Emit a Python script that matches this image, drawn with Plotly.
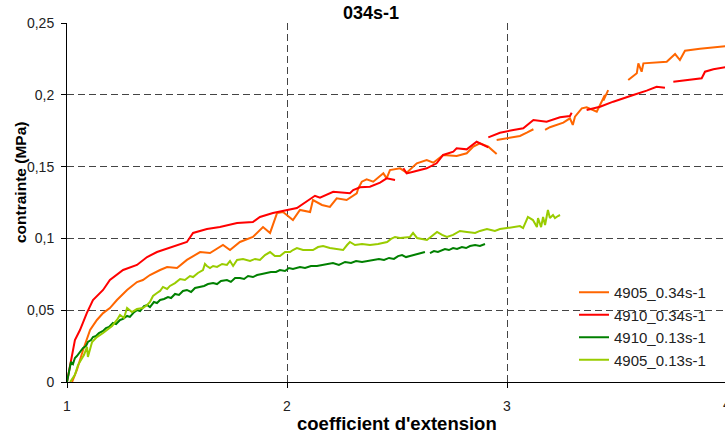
import plotly.graph_objects as go

# ---- data ----
names = ["4905_0.34s-1", "4910_0.34s-1", "4910_0.13s-1", "4905_0.13s-1"]
colors = ["#FF6600", "#FF0000", "#008000", "#99CC00"]

orange_x = [1.023,1.045,1.073,1.105,1.136,1.164,1.195,1.227,1.273,1.318,1.345,1.377,1.423,1.455,1.500,1.545,1.605,1.650,1.709,1.741,1.786,1.845,1.891,1.923,1.955,1.982,2.027,2.059,2.105,2.118,2.159,2.195,2.226,2.271,2.317,2.324,2.340,2.362,2.392,2.423,2.438,2.453,2.468,2.514,2.544,2.590,2.635,2.665,2.710,2.771,2.817,2.847,2.877,2.915,2.938,2.953,None,2.953,2.999,3.059,3.090,3.120,None,3.173,3.195,3.256,3.286,3.299,3.309,3.340,3.362,3.408,3.430,3.445,3.438,3.460,None,3.551,3.590,3.597,3.612,3.620,3.726,3.764,3.786,3.809,3.877,4.000]
orange_y = [0.000,0.0084,0.0223,0.0362,0.0432,0.0480,0.0515,0.0571,0.0641,0.0696,0.0710,0.0745,0.0780,0.0801,0.0794,0.0850,0.0905,0.0898,0.0954,0.0919,0.0975,0.1010,0.1079,0.1038,0.1177,0.1184,0.1128,0.1198,0.1184,0.1267,0.1233,0.1219,0.1279,0.1267,0.1314,0.1349,0.1395,0.1412,0.1395,0.1430,0.1453,0.1418,0.1476,0.1488,0.1458,0.1523,0.1546,0.1527,0.1581,0.1574,0.1593,0.1639,0.1662,0.1639,0.1611,0.1588,None,0.1685,0.1697,0.1713,0.1736,0.1760,None,0.1755,0.1774,0.1806,0.1836,0.1790,0.1848,0.1906,0.1913,0.1882,0.1952,0.1999,0.1959,0.2033,None,0.2103,0.2150,0.2219,0.2161,0.2219,0.2230,0.2284,0.2242,0.2307,0.2321,0.2340]

red_x = [1.000,1.014,1.036,1.059,1.090,1.118,1.164,1.195,1.255,1.318,1.364,1.409,1.482,1.545,1.573,1.636,1.695,1.773,1.845,1.877,1.936,2.000,2.045,2.127,2.150,2.210,2.256,2.286,2.301,2.332,2.377,2.408,2.423,2.453,2.491,None,2.529,2.544,2.574,2.635,2.680,2.710,2.756,2.771,2.817,2.862,2.915,None,2.915,2.968,3.029,3.074,3.120,3.180,3.241,3.286,3.294,None,3.362,3.423,3.483,3.544,3.574,3.635,3.680,3.718,None,3.756,3.832,3.885,3.900,3.938,4.000]
red_y = [0.000,0.0104,0.0292,0.0362,0.0480,0.0571,0.0641,0.0710,0.0780,0.0815,0.0870,0.0905,0.0940,0.0975,0.1038,0.1065,0.1079,0.1107,0.1114,0.1149,0.1177,0.1198,0.1212,0.1297,0.1283,0.1325,0.1321,0.1314,0.1337,0.1356,0.1360,0.1379,0.1388,0.1418,0.1407,None,0.1488,0.1453,0.1464,0.1488,0.1523,0.1581,0.1604,0.1627,0.1620,0.1673,0.1634,None,0.1704,0.1736,0.1755,0.1767,0.1825,0.1813,0.1843,0.1852,0.1875,None,0.1894,0.1917,0.1952,0.1987,0.1999,0.2029,0.2056,0.2049,None,0.2091,0.2103,0.2115,0.2161,0.2178,0.2195]

dgreen_x = [1.000,1.009,1.018,1.027,1.036,1.045,1.059,1.073,1.086,1.095,
            1.109,1.118,1.132,1.145,1.164,1.177,1.191,1.209,1.223,1.241,
            1.255,1.273,1.286,1.305,1.318,1.332,1.350,1.364,1.377,1.395,
            1.409,1.423,1.441,1.459,1.473,1.491,1.509,1.527,1.545,1.564,
            1.582,1.605,1.623,1.641,1.664,1.682,1.700,1.727,1.745,1.764,
            1.786,1.805,1.823,1.845,1.864,1.886,1.909,1.927,1.950,1.968,
            1.991,2.009,2.027,2.045,2.059,2.082,2.109,2.136,2.159,2.186,
            2.209,2.236,2.264,2.291,2.314,2.341,2.368,2.391,2.418,2.441,
            2.464,2.486,2.505,2.523,2.541,2.559,2.577,2.595,2.614,2.627,
            None,
            2.650,2.668,2.686,2.705,2.718,2.736,2.755,2.773,2.795,2.814,2.832,2.855,2.877,2.900]
dgreen_y = [0,0.0070,0.0139,0.0125,0.0167,0.0181,0.0209,0.0237,0.0251,0.0279,
            0.0292,0.0313,0.0320,0.0341,0.0355,0.0376,0.0383,0.0411,0.0404,0.0432,
            0.0439,0.0460,0.0453,0.0487,0.0501,0.0494,0.0529,0.0536,0.0522,0.0557,
            0.0550,0.0571,0.0578,0.0592,0.0585,0.0613,0.0606,0.0634,0.0641,0.0627,
            0.0655,0.0662,0.0669,0.0682,0.0689,0.0682,0.0703,0.0710,0.0697,0.0724,
            0.0724,0.0717,0.0738,0.0731,0.0745,0.0752,0.0759,0.0766,0.0766,0.0780,
            0.0773,0.0794,0.0787,0.0794,0.0801,0.0794,0.0808,0.0808,0.0815,0.0822,
            0.0829,0.0815,0.0836,0.0829,0.0843,0.0836,0.0843,0.0850,0.0857,0.0850,
            0.0864,0.0857,0.0877,0.0884,0.0870,0.0877,0.0884,0.0891,0.0898,0.0905,
            None,
            0.0898,0.0912,0.0905,0.0919,0.0926,0.0919,0.0933,0.0926,0.0940,0.0933,0.0947,0.0954,0.0947,0.0961]

lime_x = [1.014,1.036,1.050,1.059,1.077,1.091,1.095,1.114,1.136,1.164,
          1.186,1.205,1.227,1.241,1.259,1.273,1.295,1.318,1.345,1.364,
          1.377,1.391,1.409,1.423,1.436,1.455,1.468,1.491,1.514,1.536,
          1.559,1.573,1.595,1.618,1.627,1.636,1.650,1.664,1.682,1.705,
          1.727,1.741,1.755,1.773,1.800,1.832,1.855,1.877,1.900,1.923,
          1.945,1.968,1.991,2.014,2.027,2.045,2.073,2.118,2.141,2.164,
          2.195,2.227,2.255,2.273,2.286,2.309,2.341,2.377,2.414,2.455,
          2.473,2.491,2.514,2.559,2.573,2.591,2.636,2.659,2.682,2.705,
          2.727,2.755,2.786,2.818,2.855,2.877,2.909,2.945,2.968,3.000,
          3.027,3.059,3.073,3.095,3.118,3.136,3.141,3.155,3.164,3.173,
          3.186,3.195,3.209,3.218,3.232,3.241]
lime_y = [0,0.005,0.0118,0.0139,0.0188,0.0244,0.0174,0.0279,0.0313,0.0341,
          0.0369,0.0390,0.0432,0.0467,0.0446,0.0515,0.0487,0.0508,0.0515,0.0536,
          0.0557,0.0599,0.0620,0.0634,0.0662,0.0648,0.0669,0.0689,0.0717,0.0710,
          0.0738,0.0731,0.0759,0.0780,0.0822,0.0808,0.0794,0.0808,0.0801,0.0822,
          0.0815,0.0843,0.0808,0.0850,0.0857,0.0843,0.0857,0.0850,0.0884,0.0905,
          0.0877,0.0877,0.0905,0.0905,0.0919,0.0933,0.0919,0.0919,0.0940,0.0947,
          0.0933,0.0926,0.0919,0.0954,0.0975,0.0954,0.0961,0.0954,0.0961,0.0975,
          0.0996,0.1010,0.1003,0.1010,0.1038,0.1003,0.0989,0.1017,0.1045,0.1024,
          0.1010,0.1024,0.1052,0.1045,0.1038,0.1052,0.1065,0.1052,0.1065,0.1072,
          0.1079,0.1086,0.1072,0.1149,0.1128,0.1079,0.1142,0.1079,0.1149,0.1093,
          0.1198,0.1142,0.1163,0.1142,0.1156,0.1163]

x_ticks = [1, 2, 3]
y_ticks = [0, 0.05, 0.1, 0.15, 0.2, 0.25]

title_text = "034s-1"
x_title = "coefficient d'extension"
y_title = "contrainte (MPa)"

FONT = "Liberation Sans, Arial, sans-serif"

series = [(orange_x, orange_y), (red_x, red_y), (dgreen_x, dgreen_y), (lime_x, lime_y)]

fig = go.Figure()
for i, ((xs, ys), nm, col) in enumerate(zip(series, names, colors)):
    fig.add_trace(go.Scatter(x=xs, y=ys, mode="lines", name=nm,
                             line=dict(color=col, width=2),
                             connectgaps=False))

L, T, W, H = 67, 23, 725, 435
B = H - 382
fig.update_layout(
    width=W, height=H,
    margin=dict(l=L, r=0, t=T, b=B, pad=0),
    paper_bgcolor="white", plot_bgcolor="white",
    separators=", ",
    font=dict(family=FONT, size=14, color="#222"),
    showlegend=True,
    legend=dict(x=(574 - L) / (W - L), y=(382 - 276) / (382 - T),
                xanchor="left", yanchor="top",
                font=dict(family=FONT, size=15, color="#222"),
                bgcolor="rgba(0,0,0,0)", borderwidth=0,
                itemwidth=30),
    xaxis=dict(range=[1, 1 + (W - L) / 220.0], tickvals=x_ticks,
               showgrid=True, gridcolor="#444", griddash="7px,4px", gridwidth=1,
               showline=True, linecolor="black", linewidth=1,
               ticks="outside", ticklen=5, tickcolor="black",
               zeroline=False, ticklabelstandoff=6,
               tickfont=dict(family=FONT, size=14, color="#222")),
    yaxis=dict(range=[0, 0.25], tickvals=y_ticks,
               showgrid=True, gridcolor="#444", griddash="7px,4px", gridwidth=1,
               showline=True, linecolor="black", linewidth=1,
               ticks="outside", ticklen=5, tickcolor="black",
               zeroline=False, ticklabelstandoff=4,
               tickfont=dict(family=FONT, size=14, color="#222")),
    annotations=[
        dict(text="<b>" + title_text + "</b>", xref="paper", yref="paper",
             x=(371 - L) / (W - L), y=(382 - 13) / (382 - T),
             xanchor="center", yanchor="middle", showarrow=False,
             font=dict(family=FONT, size=18, color="black")),
        dict(text="<b>" + x_title + "</b>", xref="paper", yref="paper",
             x=(397 - L) / (W - L), y=(382 - 423) / (382 - T),
             xanchor="center", yanchor="middle", showarrow=False,
             font=dict(family=FONT, size=18.5, color="black")),
        dict(text="<b>" + y_title + "</b>", xref="paper", yref="paper",
             x=(20 - L) / (W - L), y=(382 - 183) / (382 - T), textangle=-90,
             xanchor="center", yanchor="middle", showarrow=False,
             font=dict(family=FONT, size=15.5, color="black")),
        dict(text="4", xref="paper", yref="paper",
             x=(727 - L) / (W - L), y=(382 - 404) / (382 - T),
             xanchor="center", yanchor="middle", showarrow=False,
             font=dict(family=FONT, size=14, color="#222")),
    ],
)

fig.write_html("out.html",
               config={"displayModeBar": False},
               post_script="document.body.style.margin='0';document.body.style.overflow='hidden';")
